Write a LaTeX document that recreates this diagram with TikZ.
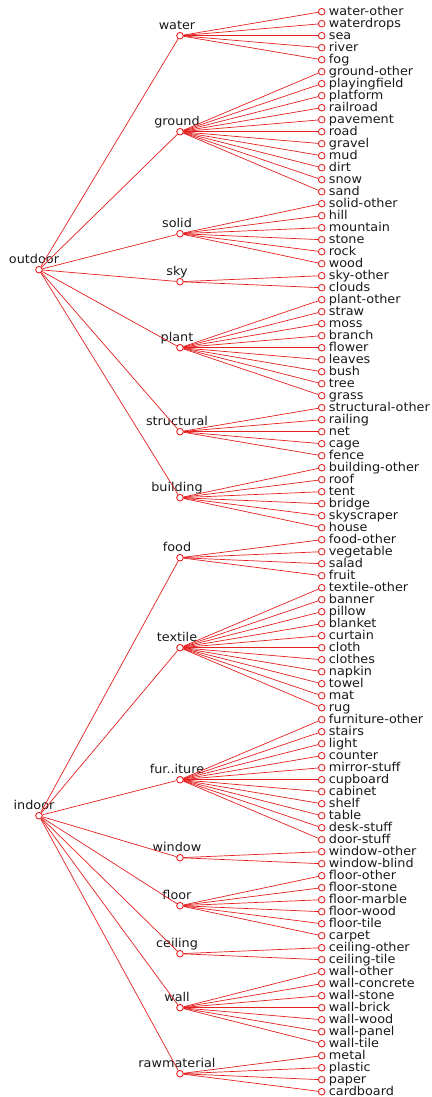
\documentclass[tikz,border=0pt]{standalone}
\usepackage{fontspec}
\setmainfont[FakeStretch=1.05]{DejaVu Sans}
\definecolor{edgered}{RGB}{228,32,32}
\definecolor{textgray}{RGB}{25,25,25}
\begin{document}
\begin{tikzpicture}[x=0.5pt,y=-0.5pt,
  dot/.style={circle,draw=edgered,line width=0.45pt,minimum size=3.3pt,inner sep=0pt},
  edge/.style={draw=edgered,line width=0.35pt},
  leaflab/.style={anchor=base west,inner sep=0pt,text=textgray,font=\fontsize{6.1pt}{6.5pt}\selectfont},
  midlab/.style={anchor=base,inner sep=0pt,text=textgray,font=\fontsize{6.1pt}{6.5pt}\selectfont}]
\useasboundingbox (0,0) rectangle (432,1097);
\node[dot] (outdoor) at (39,269.7) {};
\node[midlab] (outdoor-lab) at (34,263.2) {outdoor};
\node[dot] (indoor) at (39,815.7) {};
\node[midlab] (indoor-lab) at (34,809.2) {indoor};
\foreach \root/\g/\lab/\s/\m/\items in {
  outdoor/water/water/0/2/{water-other,waterdrops,sea,river,fog},
  outdoor/ground/ground/5/10/{ground-other,playingfield,platform,railroad,pavement,road,gravel,mud,dirt,snow,sand},
  outdoor/solid/solid/16/18.5/{solid-other,hill,mountain,stone,rock,wood},
  outdoor/sky/sky/22/22.5/{sky-other,clouds},
  outdoor/plant/plant/24/28/{plant-other,straw,moss,branch,flower,leaves,bush,tree,grass},
  outdoor/structural/structural/33/35/{structural-other,railing,net,cage,fence},
  outdoor/building/building/38/40.5/{building-other,roof,tent,bridge,skyscraper,house},
  indoor/food/food/44/45.5/{food-other,vegetable,salad,fruit},
  indoor/textile/textile/48/53/{textile-other,banner,pillow,blanket,curtain,cloth,clothes,napkin,towel,mat,rug},
  indoor/furniture/fur..iture/59/64/{furniture-other,stairs,light,counter,mirror-stuff,cupboard,cabinet,shelf,table,desk-stuff,door-stuff},
  indoor/window/window/70/70.5/{window-other,window-blind},
  indoor/floor/floor/72/74.5/{floor-other,floor-stone,floor-marble,floor-wood,floor-tile,carpet},
  indoor/ceiling/ceiling/78/78.5/{ceiling-other,ceiling-tile},
  indoor/wall/wall/80/83/{wall-other,wall-concrete,wall-stone,wall-brick,wall-wood,wall-panel,wall-tile},
  indoor/rawmaterial/rawmaterial/87/88.5/{metal,plastic,paper,cardboard}}
{
  \pgfmathsetmacro\my{11.7+12*\m}
  \node[dot] (\g) at (180,\my) {};
  \node[midlab] (\g-lab) at (177,\my-6.5) {\lab};
  \draw[edge] (\root) -- (\g);
  \foreach \l [count=\i from 0] in \items {
    \pgfmathsetmacro\yy{11.7+12*(\s+\i)}
    \node[dot] (\g-\i) at (321.7,\yy) {};
    \node[leaflab] (\g-\i-lab) at (328.5,\yy+4) {\l};
    \draw[edge] (\g) -- (\g-\i);
  }
}
\end{tikzpicture}
\end{document}
